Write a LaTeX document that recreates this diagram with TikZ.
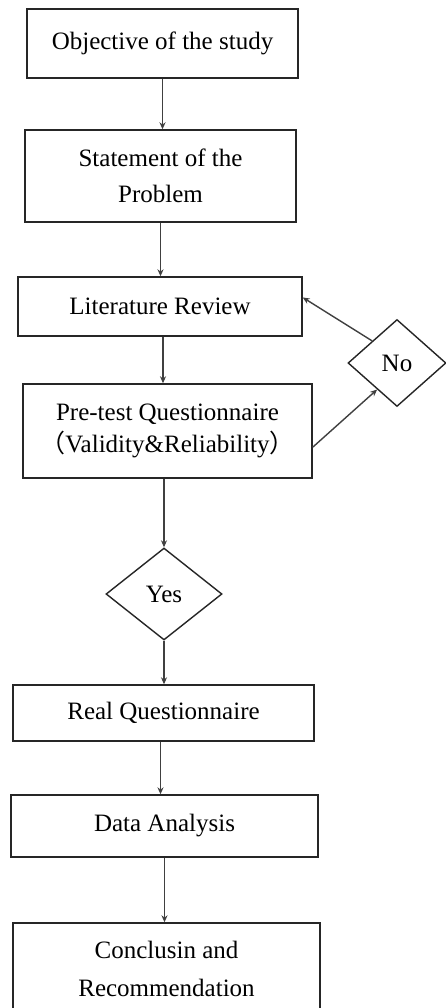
\documentclass[tikz,border=0pt]{standalone}
\usepackage{fontspec}
\setmainfont{Liberation Serif}
\newfontfamily\cjk{Noto Sans CJK SC}
\usetikzlibrary{shapes.geometric,arrows.meta,calc}
\tikzset{
  box/.style={draw=black!85, line width=1.4pt, inner sep=0pt, align=center, text=black,
              font=\fontsize{25}{35}\selectfont},
  dia/.style={diamond, draw=black!85, line width=1.4pt, inner sep=0pt, text=black,
              font=\fontsize{25}{35}\selectfont},
  arr/.style={draw=black!75, line width=1.4pt, -{Stealth[length=7pt,width=6pt]}},
}
\begin{document}
\begin{tikzpicture}[x=1pt,y=1pt]
\clip (0,0) rectangle (446,-1008);
\fill[white] (0,0) rectangle (446,-1008);

\node[box, minimum width=271pt, minimum height=69pt] (obj) at (162.5,-43.5) {Objective of the study};
\node[box, minimum width=271pt, minimum height=92pt, font=\fontsize{25}{36}\selectfont] (st) at (160.5,-176) {Statement of the\\Problem};
\node[box, minimum width=284pt, minimum height=59pt] (lit) at (160,-306.5) {Literature Review};
\node[box, minimum width=289pt, minimum height=94pt, font=\fontsize{25}{32}\selectfont] (pre) at (167.5,-431) {Pre-test Questionnaire\\{\cjk （}Validity\&Reliability{\cjk ）}};
\node[dia, minimum width=98pt, minimum height=87pt] (no) at (397,-363) {No};
\node[dia, minimum width=116pt, minimum height=92pt] (yes) at (164,-594) {Yes};
\node[box, minimum width=301pt, minimum height=56pt] (real) at (163.5,-713) {Real Questionnaire};
\node[box, minimum width=307pt, minimum height=62pt] (data) at (164.5,-826) {Data Analysis};
\node[box, minimum width=307pt, minimum height=92pt, font=\fontsize{25}{38}\selectfont] (conc) at (166.5,-969) {Conclusin and\\Recommendation};

\draw[arr] (obj.south) -- (obj.south |- st.north);
\draw[arr] (st.south) -- (st.south |- lit.north);
\draw[arr] ($(lit.south)+(3,0)$) -- ($(lit.south |- pre.north)+(3,0)$);
\draw[arr] (pre.south -| yes.north) -- (yes.north);
\draw[arr] (yes.south) -- (yes.south |- real.north);
\draw[arr] ($(real.south)+(-3,0)$) -- ($(real.south |- data.north)+(-3,0)$);
\draw[arr] (data.south) -- (data.south |- conc.north);

\draw[arr] ($(pre.south east)!0.33!(pre.north east)$) -- ($(no.west)!0.6!(no.south)$);
\draw[arr] ($(no.west)!0.5!(no.north)$) -- ($(lit.south east)!0.65!(lit.north east)$);
\end{tikzpicture}
\end{document}
